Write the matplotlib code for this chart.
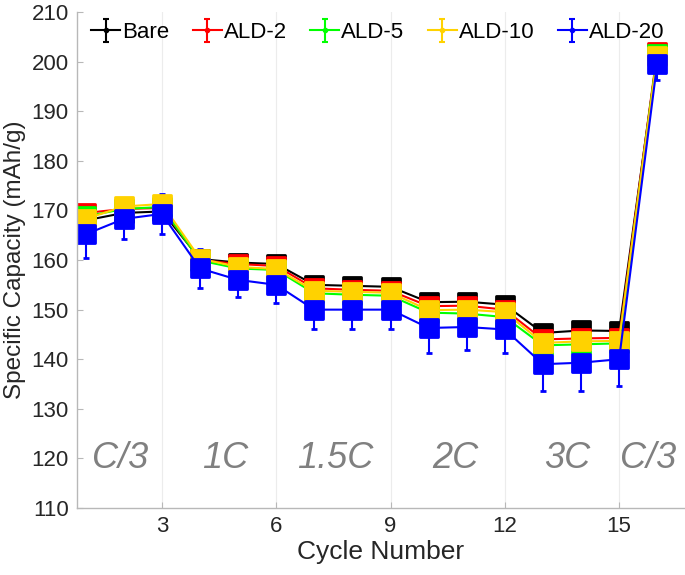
import numpy as np
import matplotlib.pyplot as plt
from matplotlib.markers import MarkerStyle

plt.rcParams["font.family"] = ["Liberation Sans", "DejaVu Sans"]

cycles = np.arange(1, 17)

bare = [168.0, 169.5, 169.8, 160.2, 159.5, 159.2, 155.0, 154.8, 154.6, 151.5, 151.6, 151.0, 145.3, 145.8, 145.7, 201.3]
ald2 = [169.5, 170.3, 170.5, 160.0, 159.2, 158.8, 154.3, 154.0, 153.8, 150.7, 150.8, 150.0, 144.0, 144.2, 144.3, 202.0]
ald5 = [168.8, 170.3, 170.7, 159.9, 158.3, 158.0, 153.3, 153.0, 152.8, 149.4, 149.2, 148.5, 142.8, 143.0, 143.2, 201.6]
ald10 = [168.3, 170.8, 171.3, 160.3, 158.6, 158.2, 153.8, 153.6, 153.4, 149.9, 150.0, 149.5, 143.3, 143.6, 143.7, 201.2]
ald20 = [165.2, 168.3, 169.3, 158.3, 156.0, 155.0, 150.0, 150.0, 150.0, 146.3, 146.5, 146.0, 139.0, 139.3, 140.0, 199.6]

bare_err = [1.0] * 16
ald2_err = [1.0] * 16
ald5_err = [1.0] * 16
ald10_err = [1.0] * 16
ald20_err = [4.8, 4.0, 4.0, 4.0, 3.4, 3.6, 4.0, 4.0, 4.0, 5.0, 4.7, 4.8, 5.5, 5.8, 5.4, 3.2]

labels = ["Bare", "ALD-2", "ALD-5", "ALD-10", "ALD-20"]
colors = ["#000000", "#ff0000", "#00ff00", "#ffd200", "#0000ff"]
series = [bare, ald2, ald5, ald10, ald20]
errors = [bare_err, ald2_err, ald5_err, ald10_err, ald20_err]

rate_labels = ["C/3", "1C", "1.5C", "2C", "3C", "C/3"]
rate_x = [1.9, 4.65, 7.55, 10.7, 13.65, 15.75]
rate_y = 120

fig = plt.figure(figsize=(6.85, 5.75), dpi=100)
ax = fig.add_axes([0.1124, 0.1165, 0.8876, 0.8625])

sq = MarkerStyle("s", joinstyle="round")
for y, e, c in zip(series, errors, colors):
    ax.errorbar(cycles, y, yerr=e, color=c, lw=1.5, elinewidth=1.5,
                capsize=2.5, capthick=1.5, marker=sq, ms=12.5, mew=2,
                mfc=c, mec=c)

# legend proxies (small markers, like the original)
for lab, c in zip(labels, colors):
    ax.errorbar([np.nan], [np.nan], yerr=[1.3], color=c, lw=1.5, elinewidth=1.5,
                capsize=2.5, capthick=1.5, marker="o", ms=3, label=lab)

for t, xx in zip(rate_labels, rate_x):
    ax.text(xx, rate_y, t, ha="center", va="center", fontsize=26,
            style="italic", color="#808080")

ax.set_xlim(0.77, 16.73)
ax.set_ylim(110, 210)
ax.set_xticks([3, 6, 9, 12, 15])
ax.set_yticks(np.arange(110, 211, 10))
ax.grid(axis="x", color="#ececec", lw=0.8)
ax.set_axisbelow(True)

for s in ["top", "right"]:
    ax.spines[s].set_visible(False)
for s in ["left", "bottom"]:
    ax.spines[s].set_color("#b8b8b8")
    ax.spines[s].set_linewidth(1.0)
ax.tick_params(direction="in", length=4, color="#b8b8b8", labelsize=16,
               labelcolor="#262626", pad=6)

ax.set_xlabel("Cycle Number", fontsize=19, color="#262626", labelpad=2)
ax.set_ylabel("Specific Capacity (mAh/g)", fontsize=17.5, color="#262626", labelpad=4)

handles, labs = ax.get_legend_handles_labels()
ax.legend(handles, labs, loc="center left", bbox_to_anchor=(0.133, 0.943),
          bbox_transform=fig.transFigure, ncol=5, frameon=False,
          fontsize=16, handlelength=1.3, handletextpad=0.1,
          columnspacing=1.05, borderaxespad=0, borderpad=0)

fig.savefig("out.png", dpi=100)
